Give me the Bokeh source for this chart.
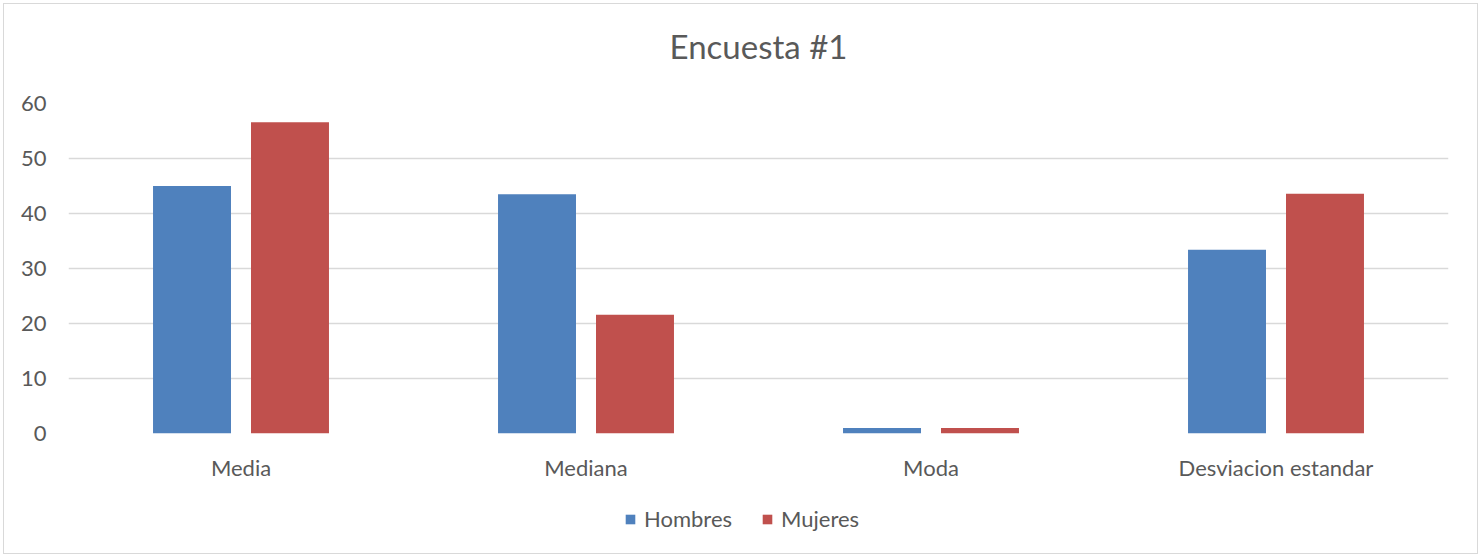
from bokeh.plotting import figure
from bokeh.models import ColumnDataSource, FactorRange, Range1d, FixedTicker, Legend, LegendItem, Title
from bokeh.layouts import column
from bokeh.transform import dodge
from bokeh.embed import file_html
from bokeh.resources import INLINE

categories = ["Media", "Mediana", "Moda", "Desviacion estandar"]
hombres = [45.0, 43.5, 1.0, 33.4]
mujeres = [56.6, 21.6, 1.0, 43.6]
series_names = ["Hombres", "Mujeres"]
y_ticks = [0, 10, 20, 30, 40, 50, 60]

source = ColumnDataSource(dict(cat=categories, hombres=hombres, mujeres=mujeres))

FONT = "Lato"
TXT = "#595959"
BLUE = "#4f81bd"
RED = "#c0504d"

p = figure(x_range=FactorRange(*categories), y_range=Range1d(0, 60),
           width=1473, height=479, output_backend="svg", toolbar_location=None,
           min_border_left=64, min_border_right=29, min_border_top=99, min_border_bottom=47)

p.title.text = "Encuesta #1"
p.title.align = "center"
p.title.text_font = FONT
p.title.text_font_size = "33px"
p.title.text_font_style = "normal"
p.title.text_color = TXT
p.title.standoff = 0
# spacer between the title and the plot area
spacer = Title(text=" ", text_font_size="10px", standoff=25)
p.add_layout(spacer, "above")

p.x_range.range_padding = 0
p.x_range.group_padding = 0

p.vbar(x=dodge("cat", -0.142, range=p.x_range), top="hombres", width=0.226,
       source=source, fill_color=BLUE, line_color=None)
p.vbar(x=dodge("cat", 0.142, range=p.x_range), top="mujeres", width=0.226,
       source=source, fill_color=RED, line_color=None)

p.yaxis.ticker = FixedTicker(ticks=y_ticks)
for ax in (p.xaxis[0], p.yaxis[0]):
    ax.axis_line_color = None
    ax.major_tick_line_color = None
    ax.major_tick_out = 0
    ax.major_tick_in = 0
    ax.minor_tick_line_color = None
    ax.major_label_text_font = FONT
    ax.major_label_text_font_size = "22px"
    ax.major_label_text_color = TXT
p.yaxis.major_label_standoff = 22
p.xaxis.major_label_standoff = 20

p.xgrid.grid_line_color = None
p.ygrid.grid_line_color = "#d9d9d9"
p.ygrid.grid_line_width = 1.5
p.outline_line_color = None

# legend strip (bars lie outside its y range, only the legend shows)
lp = figure(width=1473, height=70, output_backend="svg", toolbar_location=None,
            x_range=p.x_range, y_range=Range1d(1000, 1001),
            min_border=0, outline_line_color=None)
lp.axis.visible = False
lp.grid.visible = False
rh = lp.vbar(x="cat", top="hombres", width=0.1, source=source, fill_color=BLUE, line_color=None)
rm = lp.vbar(x="cat", top="mujeres", width=0.1, source=source, fill_color=RED, line_color=None)
legend = Legend(items=[LegendItem(label=series_names[0], renderers=[rh]),
                       LegendItem(label=series_names[1], renderers=[rm])],
                orientation="horizontal", location=(556, 21),
                label_text_font=FONT, label_text_font_size="22px", label_text_color=TXT,
                glyph_width=12, glyph_height=12, spacing=29, label_standoff=8,
                border_line_color=None, background_fill_alpha=0, padding=0, margin=0)
lp.add_layout(legend, "center")

layout = column(p, lp, spacing=0)
layout.margin = (3, 3, 3, 3)
layout.styles = {"border": "1px solid #d9d9d9", "background-color": "white"}

open("out.html", "w").write(file_html(layout, INLINE))
